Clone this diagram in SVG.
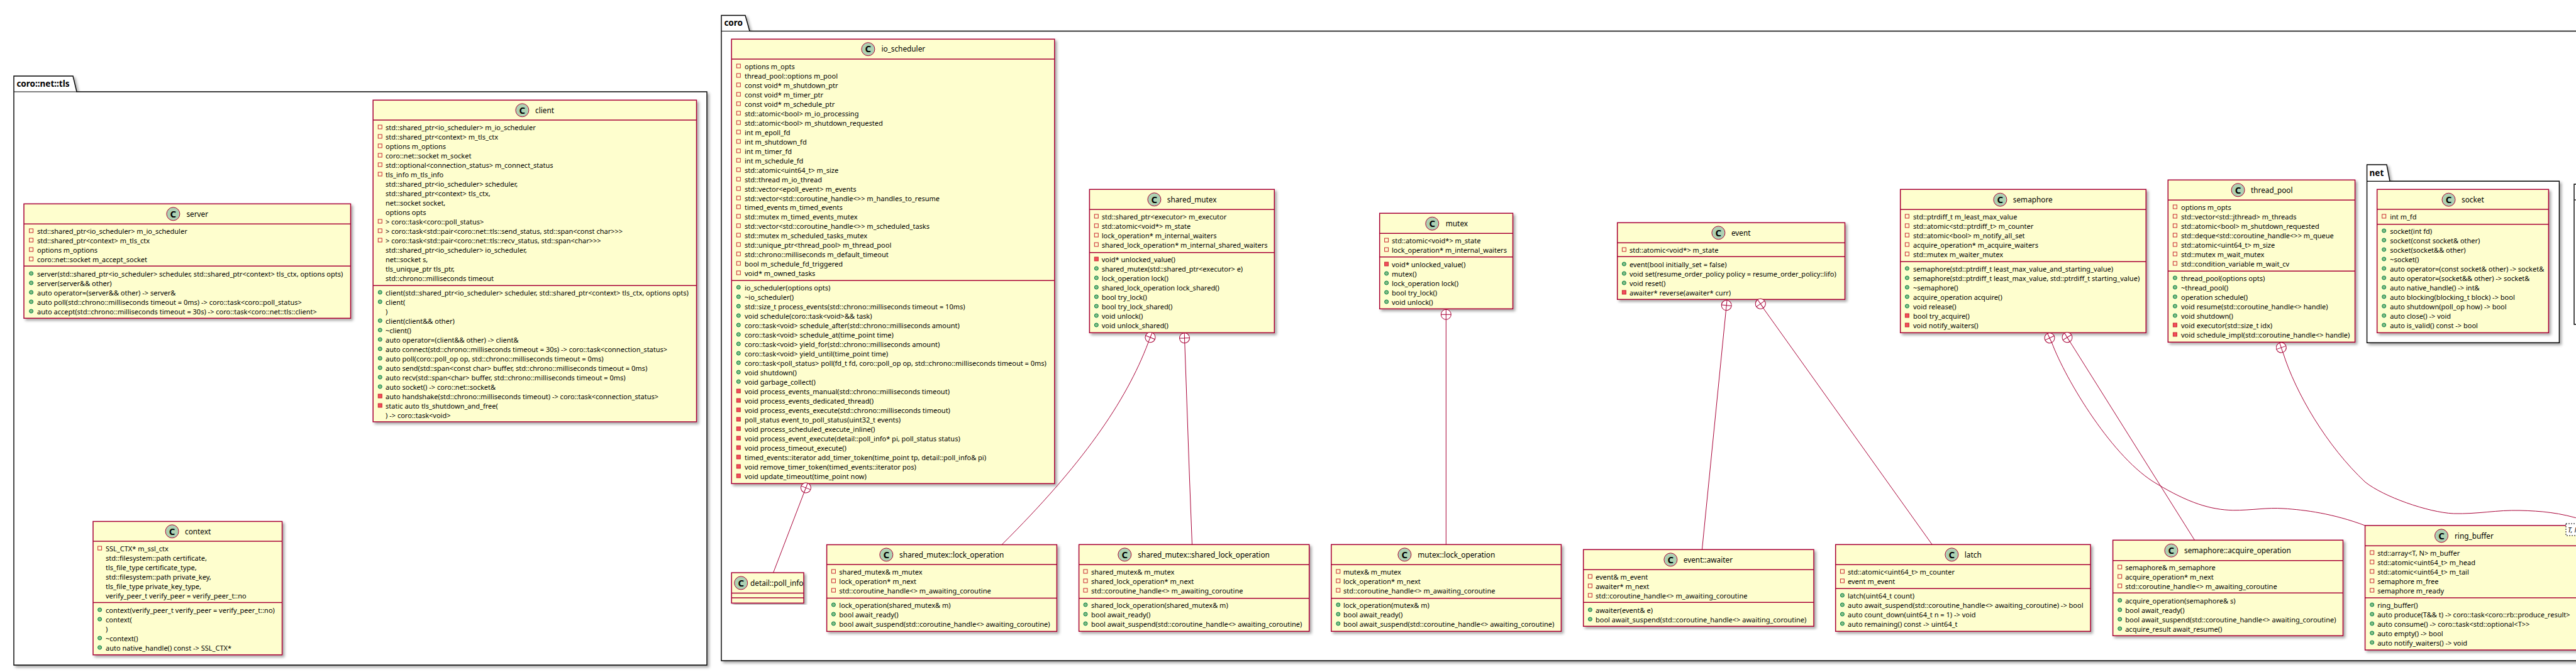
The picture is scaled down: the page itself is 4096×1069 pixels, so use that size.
<svg xmlns="http://www.w3.org/2000/svg" width="4096" height="1069" viewBox="0 0 4096 1069">
<style>
text{font-family:"Noto Sans","DejaVu Sans",sans-serif;fill:#000}
.m{font-size:11.03px}
.t{font-size:11.8px}
.p{font-size:13.5px;font-weight:bold}
.k{fill:#FEFECE;stroke:#A80036;stroke-width:1.5}
.d{stroke:#A80036;stroke-width:1.5;fill:none}
.s{fill:#ADD1B2;stroke:#A80036;stroke-width:1}
.c{font-size:15px;font-weight:bold;text-anchor:middle}
.g{fill:#fff;stroke:#000;stroke-width:1.4}
.l{stroke:#000;stroke-width:1.2;fill:none}
.e{fill:none;stroke:#A80036;stroke-width:1}
.n{fill:#fff;stroke:#A80036;stroke-width:1}
</style>
<defs>
<filter id="sh" x="-5%" y="-5%" width="110%" height="110%"><feDropShadow dx="3" dy="3" stdDeviation="2" flood-color="#000" flood-opacity="0.35"/></filter>
<rect id="a" x="-3" y="-3" width="6" height="6" fill="none" stroke="#C82930" stroke-width="1"/>
<rect id="b" x="-3" y="-3" width="6" height="6" fill="#F24D5C" stroke="#C82930" stroke-width="1"/>
<circle id="c" r="3" fill="#84BE84" stroke="#038048" stroke-width="1"/>
<g id="nest"><circle class="n" r="8"/><path class="e" d="M-8,0H8M0,-8V8"/></g>
</defs>
<g id="pkg-tls"><path class="g" filter="url(#sh)" d="M22,121H116L122,146H1124V1058H22Z"/><path class="l" d="M22,146H122"/><text class="p" x="26.4" y="137.5">coro::net::tls</text></g>
<g id="pkg-coro"><path class="g" filter="url(#sh)" d="M1147,24.5H1185L1192,49.5H4110V1051H1147Z"/><path class="l" d="M1147,49.5H1192"/><text class="p" x="1151.4" y="41">coro</text></g>
<g id="pkg-net"><path class="g" filter="url(#sh)" d="M3763.6,262H3795L3800,288.3H4069.4V545.3H3763.6Z"/><path class="l" d="M3763.6,288.3H3800"/><text class="p" x="3767.6" y="280">net</text></g>
<g id="pkg-cut"><path class="g" d="M4110,293H4093V516H4110Z"/><path class="l" d="M4093,318H4110"/></g>

<g id="server"><rect class="k" filter="url(#sh)" x="38" y="324.3" width="519.5" height="182"/><path class="d" d="M38,356.3H557.5M38,423.3H557.5"/><circle class="s" cx="275.4" cy="340.3" r="10.5"/><text class="c" x="275.4" y="345.5">C</text><text class="t" x="296.4" y="344.5">server</text>
<use href="#a" x="49.6" y="367"/><text class="m" x="59" y="372">std::shared_ptr&lt;io_scheduler&gt; m_io_scheduler</text>
<use href="#a" x="49.6" y="382"/><text class="m" x="59" y="387">std::shared_ptr&lt;context&gt; m_tls_ctx</text>
<use href="#a" x="49.6" y="397"/><text class="m" x="59" y="402">options m_options</text>
<use href="#a" x="49.6" y="412"/><text class="m" x="59" y="417">coro::net::socket m_accept_socket</text>
<use href="#c" x="49.6" y="435"/><text class="m" x="59" y="440">server(std::shared_ptr&lt;io_scheduler&gt; scheduler, std::shared_ptr&lt;context&gt; tls_ctx, options opts)</text>
<use href="#c" x="49.6" y="450"/><text class="m" x="59" y="455">server(server&amp;&amp; other)</text>
<use href="#c" x="49.6" y="465"/><text class="m" x="59" y="470">auto operator=(server&amp;&amp; other) -&gt; server&amp;</text>
<use href="#c" x="49.6" y="480"/><text class="m" x="59" y="485">auto poll(std::chrono::milliseconds timeout = 0ms) -&gt; coro::task&lt;coro::poll_status&gt;</text>
<use href="#c" x="49.6" y="495"/><text class="m" x="59" y="500">auto accept(std::chrono::milliseconds timeout = 30s) -&gt; coro::task&lt;coro::net::tls::client&gt;</text>
</g>

<g id="client"><rect class="k" filter="url(#sh)" x="593.2" y="159.3" width="514.3" height="511.7"/><path class="d" d="M593.2,191H1107.5M593.2,454.3H1107.5"/><circle class="s" cx="830.4" cy="175.3" r="10.5"/><text class="c" x="830.4" y="180.5">C</text><text class="t" x="851" y="179.5">client</text>
<use href="#a" x="604.3" y="202"/><text class="m" x="613" y="207">std::shared_ptr&lt;io_scheduler&gt; m_io_scheduler</text>
<use href="#a" x="604.3" y="217"/><text class="m" x="613" y="222">std::shared_ptr&lt;context&gt; m_tls_ctx</text>
<use href="#a" x="604.3" y="232"/><text class="m" x="613" y="237">options m_options</text>
<use href="#a" x="604.3" y="247"/><text class="m" x="613" y="252">coro::net::socket m_socket</text>
<use href="#a" x="604.3" y="262"/><text class="m" x="613" y="267">std::optional&lt;connection_status&gt; m_connect_status</text>
<use href="#a" x="604.3" y="277"/><text class="m" x="613" y="282">tls_info m_tls_info</text>
<text class="m" x="613" y="297">std::shared_ptr&lt;io_scheduler&gt; scheduler,</text>
<text class="m" x="613" y="312">std::shared_ptr&lt;context&gt; tls_ctx,</text>
<text class="m" x="613" y="327">net::socket socket,</text>
<text class="m" x="613" y="342">options opts</text>
<use href="#a" x="604.3" y="352"/><text class="m" x="613" y="357">&gt; coro::task&lt;coro::poll_status&gt;</text>
<use href="#a" x="604.3" y="367"/><text class="m" x="613" y="372">&gt; coro::task&lt;std::pair&lt;coro::net::tls::send_status, std::span&lt;const char&gt;&gt;&gt;</text>
<use href="#a" x="604.3" y="382"/><text class="m" x="613" y="387">&gt; coro::task&lt;std::pair&lt;coro::net::tls::recv_status, std::span&lt;char&gt;&gt;&gt;</text>
<text class="m" x="613" y="402">std::shared_ptr&lt;io_scheduler&gt; io_scheduler,</text>
<text class="m" x="613" y="417">net::socket s,</text>
<text class="m" x="613" y="432">tls_unique_ptr tls_ptr,</text>
<text class="m" x="613" y="447">std::chrono::milliseconds timeout</text>
<use href="#c" x="604.3" y="465"/><text class="m" x="613" y="470">client(std::shared_ptr&lt;io_scheduler&gt; scheduler, std::shared_ptr&lt;context&gt; tls_ctx, options opts)</text>
<use href="#c" x="604.3" y="480"/><text class="m" x="613" y="485">client(</text>
<text class="m" x="613" y="500">)</text>
<use href="#c" x="604.3" y="510"/><text class="m" x="613" y="515">client(client&amp;&amp; other)</text>
<use href="#c" x="604.3" y="525"/><text class="m" x="613" y="530">~client()</text>
<use href="#c" x="604.3" y="540"/><text class="m" x="613" y="545">auto operator=(client&amp;&amp; other) -&gt; client&amp;</text>
<use href="#c" x="604.3" y="555"/><text class="m" x="613" y="560">auto connect(std::chrono::milliseconds timeout = 30s) -&gt; coro::task&lt;connection_status&gt;</text>
<use href="#c" x="604.3" y="570"/><text class="m" x="613" y="575">auto poll(coro::poll_op op, std::chrono::milliseconds timeout = 0ms)</text>
<use href="#c" x="604.3" y="585"/><text class="m" x="613" y="590">auto send(std::span&lt;const char&gt; buffer, std::chrono::milliseconds timeout = 0ms)</text>
<use href="#c" x="604.3" y="600"/><text class="m" x="613" y="605">auto recv(std::span&lt;char&gt; buffer, std::chrono::milliseconds timeout = 0ms)</text>
<use href="#c" x="604.3" y="615"/><text class="m" x="613" y="620">auto socket() -&gt; coro::net::socket&amp;</text>
<use href="#b" x="604.3" y="630"/><text class="m" x="613" y="635">auto handshake(std::chrono::milliseconds timeout) -&gt; coro::task&lt;connection_status&gt;</text>
<use href="#b" x="604.3" y="645"/><text class="m" x="613" y="650">static auto tls_shutdown_and_free(</text>
<text class="m" x="613" y="665">) -&gt; coro::task&lt;void&gt;</text>
</g>

<g id="context"><rect class="k" filter="url(#sh)" x="148" y="829.5" width="300.6" height="212.2"/><path class="d" d="M148,861H448.6M148,958.4H448.6"/><circle class="s" cx="273.6" cy="845.3" r="10.5"/><text class="c" x="273.6" y="850.5">C</text><text class="t" x="294" y="849.5">context</text>
<use href="#a" x="158.6" y="872"/><text class="m" x="168" y="877">SSL_CTX* m_ssl_ctx</text>
<text class="m" x="168" y="892">std::filesystem::path certificate,</text>
<text class="m" x="168" y="907">tls_file_type certificate_type,</text>
<text class="m" x="168" y="922">std::filesystem::path private_key,</text>
<text class="m" x="168" y="937">tls_file_type private_key_type,</text>
<text class="m" x="168" y="952">verify_peer_t verify_peer = verify_peer_t::no</text>
<use href="#c" x="158.6" y="970"/><text class="m" x="168" y="975">context(verify_peer_t verify_peer = verify_peer_t::no)</text>
<use href="#c" x="158.6" y="985"/><text class="m" x="168" y="990">context(</text>
<text class="m" x="168" y="1005">)</text>
<use href="#c" x="158.6" y="1015"/><text class="m" x="168" y="1020">~context()</text>
<use href="#c" x="158.6" y="1030"/><text class="m" x="168" y="1035">auto native_handle() const -&gt; SSL_CTX*</text>
</g>

<g id="io_scheduler"><rect class="k" filter="url(#sh)" x="1163.2" y="62.3" width="513.6" height="707"/><path class="d" d="M1163.2,94H1676.8M1163.2,446.3H1676.8"/><circle class="s" cx="1380.4" cy="78.2" r="10.5"/><text class="c" x="1380.4" y="83.4">C</text><text class="t" x="1401.4" y="82.4">io_scheduler</text>
<use href="#a" x="1174.3" y="105"/><text class="m" x="1184" y="110">options m_opts</text>
<use href="#a" x="1174.3" y="120"/><text class="m" x="1184" y="125">thread_pool::options m_pool</text>
<use href="#a" x="1174.3" y="135"/><text class="m" x="1184" y="140">const void* m_shutdown_ptr</text>
<use href="#a" x="1174.3" y="150"/><text class="m" x="1184" y="155">const void* m_timer_ptr</text>
<use href="#a" x="1174.3" y="165"/><text class="m" x="1184" y="170">const void* m_schedule_ptr</text>
<use href="#a" x="1174.3" y="180"/><text class="m" x="1184" y="185">std::atomic&lt;bool&gt; m_io_processing</text>
<use href="#a" x="1174.3" y="195"/><text class="m" x="1184" y="200">std::atomic&lt;bool&gt; m_shutdown_requested</text>
<use href="#a" x="1174.3" y="210"/><text class="m" x="1184" y="215">int m_epoll_fd</text>
<use href="#a" x="1174.3" y="225"/><text class="m" x="1184" y="230">int m_shutdown_fd</text>
<use href="#a" x="1174.3" y="240"/><text class="m" x="1184" y="245">int m_timer_fd</text>
<use href="#a" x="1174.3" y="255"/><text class="m" x="1184" y="260">int m_schedule_fd</text>
<use href="#a" x="1174.3" y="270"/><text class="m" x="1184" y="275">std::atomic&lt;uint64_t&gt; m_size</text>
<use href="#a" x="1174.3" y="285"/><text class="m" x="1184" y="290">std::thread m_io_thread</text>
<use href="#a" x="1174.3" y="300"/><text class="m" x="1184" y="305">std::vector&lt;epoll_event&gt; m_events</text>
<use href="#a" x="1174.3" y="315"/><text class="m" x="1184" y="320">std::vector&lt;std::coroutine_handle&lt;&gt;&gt; m_handles_to_resume</text>
<use href="#a" x="1174.3" y="329"/><text class="m" x="1184" y="334">timed_events m_timed_events</text>
<use href="#a" x="1174.3" y="344"/><text class="m" x="1184" y="349">std::mutex m_timed_events_mutex</text>
<use href="#a" x="1174.3" y="359"/><text class="m" x="1184" y="364">std::vector&lt;std::coroutine_handle&lt;&gt;&gt; m_scheduled_tasks</text>
<use href="#a" x="1174.3" y="374"/><text class="m" x="1184" y="379">std::mutex m_scheduled_tasks_mutex</text>
<use href="#a" x="1174.3" y="389"/><text class="m" x="1184" y="394">std::unique_ptr&lt;thread_pool&gt; m_thread_pool</text>
<use href="#a" x="1174.3" y="404"/><text class="m" x="1184" y="409">std::chrono::milliseconds m_default_timeout</text>
<use href="#a" x="1174.3" y="419"/><text class="m" x="1184" y="424">bool m_schedule_fd_triggered</text>
<use href="#a" x="1174.3" y="434"/><text class="m" x="1184" y="439">void* m_owned_tasks</text>
<use href="#c" x="1174.3" y="457"/><text class="m" x="1184" y="462">io_scheduler(options opts)</text>
<use href="#c" x="1174.3" y="472"/><text class="m" x="1184" y="477">~io_scheduler()</text>
<use href="#c" x="1174.3" y="487"/><text class="m" x="1184" y="492">std::size_t process_events(std::chrono::milliseconds timeout = 10ms)</text>
<use href="#c" x="1174.3" y="502"/><text class="m" x="1184" y="507">void schedule(coro::task&lt;void&gt;&amp;&amp; task)</text>
<use href="#c" x="1174.3" y="517"/><text class="m" x="1184" y="522">coro::task&lt;void&gt; schedule_after(std::chrono::milliseconds amount)</text>
<use href="#c" x="1174.3" y="532"/><text class="m" x="1184" y="537">coro::task&lt;void&gt; schedule_at(time_point time)</text>
<use href="#c" x="1174.3" y="547"/><text class="m" x="1184" y="552">coro::task&lt;void&gt; yield_for(std::chrono::milliseconds amount)</text>
<use href="#c" x="1174.3" y="562"/><text class="m" x="1184" y="567">coro::task&lt;void&gt; yield_until(time_point time)</text>
<use href="#c" x="1174.3" y="577"/><text class="m" x="1184" y="582">coro::task&lt;poll_status&gt; poll(fd_t fd, coro::poll_op op, std::chrono::milliseconds timeout = 0ms)</text>
<use href="#c" x="1174.3" y="592"/><text class="m" x="1184" y="597">void shutdown()</text>
<use href="#c" x="1174.3" y="607"/><text class="m" x="1184" y="612">void garbage_collect()</text>
<use href="#b" x="1174.3" y="622"/><text class="m" x="1184" y="627">void process_events_manual(std::chrono::milliseconds timeout)</text>
<use href="#b" x="1174.3" y="637"/><text class="m" x="1184" y="642">void process_events_dedicated_thread()</text>
<use href="#b" x="1174.3" y="652"/><text class="m" x="1184" y="657">void process_events_execute(std::chrono::milliseconds timeout)</text>
<use href="#b" x="1174.3" y="667"/><text class="m" x="1184" y="672">poll_status event_to_poll_status(uint32_t events)</text>
<use href="#b" x="1174.3" y="682"/><text class="m" x="1184" y="687">void process_scheduled_execute_inline()</text>
<use href="#b" x="1174.3" y="697"/><text class="m" x="1184" y="702">void process_event_execute(detail::poll_info* pi, poll_status status)</text>
<use href="#b" x="1174.3" y="712"/><text class="m" x="1184" y="717">void process_timeout_execute()</text>
<use href="#b" x="1174.3" y="727"/><text class="m" x="1184" y="732">timed_events::iterator add_timer_token(time_point tp, detail::poll_info&amp; pi)</text>
<use href="#b" x="1174.3" y="742"/><text class="m" x="1184" y="747">void remove_timer_token(timed_events::iterator pos)</text>
<use href="#b" x="1174.3" y="757"/><text class="m" x="1184" y="762">void update_timeout(time_point now)</text>
</g>

<g id="detail_poll_info"><rect class="k" filter="url(#sh)" x="1163.2" y="911" width="114.8" height="48.4"/><path class="d" d="M1163.2,943.5H1278M1163.2,951H1278"/><circle class="s" cx="1178.2" cy="927.4" r="10.5"/><text class="c" x="1178.2" y="932.6">C</text><text class="t" x="1193" y="931.6">detail::poll_info</text></g>

<g id="shared_mutex_lock_operation"><rect class="k" filter="url(#sh)" x="1314.6" y="866.5" width="365.8" height="137.9"/><path class="d" d="M1314.6,898H1680.4M1314.6,951.4H1680.4"/><circle class="s" cx="1409.3" cy="882.4" r="10.5"/><text class="c" x="1409.3" y="887.6">C</text><text class="t" x="1430" y="886.6">shared_mutex::lock_operation</text>
<use href="#a" x="1325.4" y="909"/><text class="m" x="1334.3" y="914">shared_mutex&amp; m_mutex</text>
<use href="#a" x="1325.4" y="924"/><text class="m" x="1334.3" y="929">lock_operation* m_next</text>
<use href="#a" x="1325.4" y="939"/><text class="m" x="1334.3" y="944">std::coroutine_handle&lt;&gt; m_awaiting_coroutine</text>
<use href="#c" x="1325.4" y="962"/><text class="m" x="1334.3" y="967">lock_operation(shared_mutex&amp; m)</text>
<use href="#c" x="1325.4" y="977"/><text class="m" x="1334.3" y="982">bool await_ready()</text>
<use href="#c" x="1325.4" y="992"/><text class="m" x="1334.3" y="997">bool await_suspend(std::coroutine_handle&lt;&gt; awaiting_coroutine)</text>
</g>

<g id="shared_mutex"><rect class="k" filter="url(#sh)" x="1732.4" y="301.3" width="293.9" height="228"/><path class="d" d="M1732.4,333.3H2026.3M1732.4,401.7H2026.3"/><circle class="s" cx="1835.4" cy="317.3" r="10.5"/><text class="c" x="1835.4" y="322.5">C</text><text class="t" x="1855.8" y="321.5">shared_mutex</text>
<use href="#a" x="1743.3" y="344"/><text class="m" x="1751.7" y="349">std::shared_ptr&lt;executor&gt; m_executor</text>
<use href="#a" x="1743.3" y="359"/><text class="m" x="1751.7" y="364">std::atomic&lt;void*&gt; m_state</text>
<use href="#a" x="1743.3" y="374"/><text class="m" x="1751.7" y="379">lock_operation* m_internal_waiters</text>
<use href="#a" x="1743.3" y="389"/><text class="m" x="1751.7" y="394">shared_lock_operation* m_internal_shared_waiters</text>
<use href="#b" x="1743.3" y="412"/><text class="m" x="1751.7" y="417">void* unlocked_value()</text>
<use href="#c" x="1743.3" y="427"/><text class="m" x="1751.7" y="432">shared_mutex(std::shared_ptr&lt;executor&gt; e)</text>
<use href="#c" x="1743.3" y="442"/><text class="m" x="1751.7" y="447">lock_operation lock()</text>
<use href="#c" x="1743.3" y="457"/><text class="m" x="1751.7" y="462">shared_lock_operation lock_shared()</text>
<use href="#c" x="1743.3" y="472"/><text class="m" x="1751.7" y="477">bool try_lock()</text>
<use href="#c" x="1743.3" y="487"/><text class="m" x="1751.7" y="492">bool try_lock_shared()</text>
<use href="#c" x="1743.3" y="502"/><text class="m" x="1751.7" y="507">void unlock()</text>
<use href="#c" x="1743.3" y="517"/><text class="m" x="1751.7" y="522">void unlock_shared()</text>
</g>

<g id="shared_mutex_shared_lock_operation"><rect class="k" filter="url(#sh)" x="1715.6" y="866.3" width="366.1" height="138"/><path class="d" d="M1715.6,898.3H2081.7M1715.6,951.7H2081.7"/><circle class="s" cx="1788.3" cy="882.3" r="10.5"/><text class="c" x="1788.3" y="887.5">C</text><text class="t" x="1809.2" y="886.5">shared_mutex::shared_lock_operation</text>
<use href="#a" x="1726" y="909"/><text class="m" x="1735" y="914">shared_mutex&amp; m_mutex</text>
<use href="#a" x="1726" y="924"/><text class="m" x="1735" y="929">shared_lock_operation* m_next</text>
<use href="#a" x="1726" y="939"/><text class="m" x="1735" y="944">std::coroutine_handle&lt;&gt; m_awaiting_coroutine</text>
<use href="#c" x="1726" y="962"/><text class="m" x="1735" y="967">shared_lock_operation(shared_mutex&amp; m)</text>
<use href="#c" x="1726" y="977"/><text class="m" x="1735" y="982">bool await_ready()</text>
<use href="#c" x="1726" y="992"/><text class="m" x="1735" y="997">bool await_suspend(std::coroutine_handle&lt;&gt; awaiting_coroutine)</text>
</g>

<g id="mutex"><rect class="k" filter="url(#sh)" x="2193.7" y="339.3" width="211.8" height="152"/><path class="d" d="M2193.7,371.3H2405.5M2193.7,408.7H2405.5"/><circle class="s" cx="2277.3" cy="355.7" r="10.5"/><text class="c" x="2277.3" y="360.9">C</text><text class="t" x="2298.8" y="359.9">mutex</text>
<use href="#a" x="2204.6" y="382"/><text class="m" x="2213" y="387">std::atomic&lt;void*&gt; m_state</text>
<use href="#a" x="2204.6" y="397"/><text class="m" x="2213" y="402">lock_operation* m_internal_waiters</text>
<use href="#b" x="2204.6" y="420"/><text class="m" x="2213" y="425">void* unlocked_value()</text>
<use href="#c" x="2204.6" y="435"/><text class="m" x="2213" y="440">mutex()</text>
<use href="#c" x="2204.6" y="450"/><text class="m" x="2213" y="455">lock_operation lock()</text>
<use href="#c" x="2204.6" y="465"/><text class="m" x="2213" y="470">bool try_lock()</text>
<use href="#c" x="2204.6" y="480"/><text class="m" x="2213" y="485">void unlock()</text>
</g>

<g id="mutex_lock_operation"><rect class="k" filter="url(#sh)" x="2116.8" y="866.3" width="365.6" height="138"/><path class="d" d="M2116.8,898.3H2482.4M2116.8,951.7H2482.4"/><circle class="s" cx="2233.4" cy="882.3" r="10.5"/><text class="c" x="2233.4" y="887.5">C</text><text class="t" x="2254.3" y="886.5">mutex::lock_operation</text>
<use href="#a" x="2127.8" y="909"/><text class="m" x="2136" y="914">mutex&amp; m_mutex</text>
<use href="#a" x="2127.8" y="924"/><text class="m" x="2136" y="929">lock_operation* m_next</text>
<use href="#a" x="2127.8" y="939"/><text class="m" x="2136" y="944">std::coroutine_handle&lt;&gt; m_awaiting_coroutine</text>
<use href="#c" x="2127.8" y="962"/><text class="m" x="2136" y="967">lock_operation(mutex&amp; m)</text>
<use href="#c" x="2127.8" y="977"/><text class="m" x="2136" y="982">bool await_ready()</text>
<use href="#c" x="2127.8" y="992"/><text class="m" x="2136" y="997">bool await_suspend(std::coroutine_handle&lt;&gt; awaiting_coroutine)</text>
</g>

<g id="event"><rect class="k" filter="url(#sh)" x="2571.7" y="354.3" width="361.8" height="122"/><path class="d" d="M2571.7,386.3H2933.5M2571.7,408.3H2933.5"/><circle class="s" cx="2732.4" cy="370.3" r="10.5"/><text class="c" x="2732.4" y="375.5">C</text><text class="t" x="2752.9" y="374.5">event</text>
<use href="#a" x="2582.4" y="397"/><text class="m" x="2591" y="402">std::atomic&lt;void*&gt; m_state</text>
<use href="#c" x="2582.4" y="420"/><text class="m" x="2591" y="425">event(bool initially_set = false)</text>
<use href="#c" x="2582.4" y="435"/><text class="m" x="2591" y="440">void set(resume_order_policy policy = resume_order_policy::lifo)</text>
<use href="#c" x="2582.4" y="450"/><text class="m" x="2591" y="455">void reset()</text>
<use href="#b" x="2582.4" y="465"/><text class="m" x="2591" y="470">awaiter* reverse(awaiter* curr)</text>
</g>

<g id="event_awaiter"><rect class="k" filter="url(#sh)" x="2517.7" y="874.3" width="366.3" height="122"/><path class="d" d="M2517.7,906.3H2884M2517.7,958.3H2884"/><circle class="s" cx="2656.4" cy="890.3" r="10.5"/><text class="c" x="2656.4" y="895.5">C</text><text class="t" x="2676.8" y="894.5">event::awaiter</text>
<use href="#a" x="2528.4" y="917"/><text class="m" x="2537" y="922">event&amp; m_event</text>
<use href="#a" x="2528.4" y="932"/><text class="m" x="2537" y="937">awaiter* m_next</text>
<use href="#a" x="2528.4" y="947"/><text class="m" x="2537" y="952">std::coroutine_handle&lt;&gt; m_awaiting_coroutine</text>
<use href="#c" x="2528.4" y="970"/><text class="m" x="2537" y="975">awaiter(event&amp; e)</text>
<use href="#c" x="2528.4" y="985"/><text class="m" x="2537" y="990">bool await_suspend(std::coroutine_handle&lt;&gt; awaiting_coroutine)</text>
</g>

<g id="latch"><rect class="k" filter="url(#sh)" x="2918.7" y="866.3" width="405.3" height="138"/><path class="d" d="M2918.7,898.3H3324M2918.7,936.3H3324"/><circle class="s" cx="3103.4" cy="882.3" r="10.5"/><text class="c" x="3103.4" y="887.5">C</text><text class="t" x="3123.8" y="886.5">latch</text>
<use href="#a" x="2929.4" y="909"/><text class="m" x="2938" y="914">std::atomic&lt;uint64_t&gt; m_counter</text>
<use href="#a" x="2929.4" y="924"/><text class="m" x="2938" y="929">event m_event</text>
<use href="#c" x="2929.4" y="947"/><text class="m" x="2938" y="952">latch(uint64_t count)</text>
<use href="#c" x="2929.4" y="962"/><text class="m" x="2938" y="967">auto await_suspend(std::coroutine_handle&lt;&gt; awaiting_coroutine) -&gt; bool</text>
<use href="#c" x="2929.4" y="977"/><text class="m" x="2938" y="982">auto count_down(uint64_t n = 1) -&gt; void</text>
<use href="#c" x="2929.4" y="992"/><text class="m" x="2938" y="997">auto remaining() const -&gt; uint64_t</text>
</g>

<g id="semaphore"><rect class="k" filter="url(#sh)" x="3021.7" y="301.3" width="390.6" height="228"/><path class="d" d="M3021.7,333.3H3412.3M3021.7,416.3H3412.3"/><circle class="s" cx="3180.4" cy="317.7" r="10.5"/><text class="c" x="3180.4" y="322.9">C</text><text class="t" x="3200.8" y="321.9">semaphore</text>
<use href="#a" x="3032.4" y="344"/><text class="m" x="3042" y="349">std::ptrdiff_t m_least_max_value</text>
<use href="#a" x="3032.4" y="359"/><text class="m" x="3042" y="364">std::atomic&lt;std::ptrdiff_t&gt; m_counter</text>
<use href="#a" x="3032.4" y="374"/><text class="m" x="3042" y="379">std::atomic&lt;bool&gt; m_notify_all_set</text>
<use href="#a" x="3032.4" y="389"/><text class="m" x="3042" y="394">acquire_operation* m_acquire_waiters</text>
<use href="#a" x="3032.4" y="404"/><text class="m" x="3042" y="409">std::mutex m_waiter_mutex</text>
<use href="#c" x="3032.4" y="427"/><text class="m" x="3042" y="432">semaphore(std::ptrdiff_t least_max_value_and_starting_value)</text>
<use href="#c" x="3032.4" y="442"/><text class="m" x="3042" y="447">semaphore(std::ptrdiff_t least_max_value, std::ptrdiff_t starting_value)</text>
<use href="#c" x="3032.4" y="457"/><text class="m" x="3042" y="462">~semaphore()</text>
<use href="#c" x="3032.4" y="472"/><text class="m" x="3042" y="477">acquire_operation acquire()</text>
<use href="#c" x="3032.4" y="487"/><text class="m" x="3042" y="492">void release()</text>
<use href="#b" x="3032.4" y="502"/><text class="m" x="3042" y="507">bool try_acquire()</text>
<use href="#b" x="3032.4" y="517"/><text class="m" x="3042" y="522">void notify_waiters()</text>
</g>

<g id="semaphore_acquire_operation"><rect class="k" filter="url(#sh)" x="3359.6" y="859.3" width="365.9" height="152"/><path class="d" d="M3359.6,891.7H3725.5M3359.6,943.3H3725.5"/><circle class="s" cx="3452.4" cy="875.7" r="10.5"/><text class="c" x="3452.4" y="880.9">C</text><text class="t" x="3473" y="879.9">semaphore::acquire_operation</text>
<use href="#a" x="3370.7" y="902"/><text class="m" x="3379.2" y="907">semaphore&amp; m_semaphore</text>
<use href="#a" x="3370.7" y="917"/><text class="m" x="3379.2" y="922">acquire_operation* m_next</text>
<use href="#a" x="3370.7" y="932"/><text class="m" x="3379.2" y="937">std::coroutine_handle&lt;&gt; m_awaiting_coroutine</text>
<use href="#c" x="3370.7" y="955"/><text class="m" x="3379.2" y="960">acquire_operation(semaphore&amp; s)</text>
<use href="#c" x="3370.7" y="970"/><text class="m" x="3379.2" y="975">bool await_ready()</text>
<use href="#c" x="3370.7" y="985"/><text class="m" x="3379.2" y="990">bool await_suspend(std::coroutine_handle&lt;&gt; awaiting_coroutine)</text>
<use href="#c" x="3370.7" y="1000"/><text class="m" x="3379.2" y="1005">acquire_result await_resume()</text>
</g>

<g id="thread_pool"><rect class="k" filter="url(#sh)" x="3447.3" y="286.3" width="297.3" height="258"/><path class="d" d="M3447.3,318.3H3744.6M3447.3,431.3H3744.6"/><circle class="s" cx="3558.6" cy="302.3" r="10.5"/><text class="c" x="3558.6" y="307.5">C</text><text class="t" x="3579" y="306.5">thread_pool</text>
<use href="#a" x="3458.4" y="329"/><text class="m" x="3468" y="334">options m_opts</text>
<use href="#a" x="3458.4" y="344"/><text class="m" x="3468" y="349">std::vector&lt;std::jthread&gt; m_threads</text>
<use href="#a" x="3458.4" y="359"/><text class="m" x="3468" y="364">std::atomic&lt;bool&gt; m_shutdown_requested</text>
<use href="#a" x="3458.4" y="374"/><text class="m" x="3468" y="379">std::deque&lt;std::coroutine_handle&lt;&gt;&gt; m_queue</text>
<use href="#a" x="3458.4" y="389"/><text class="m" x="3468" y="394">std::atomic&lt;uint64_t&gt; m_size</text>
<use href="#a" x="3458.4" y="404"/><text class="m" x="3468" y="409">std::mutex m_wait_mutex</text>
<use href="#a" x="3458.4" y="419"/><text class="m" x="3468" y="424">std::condition_variable m_wait_cv</text>
<use href="#c" x="3458.4" y="442"/><text class="m" x="3468" y="447">thread_pool(options opts)</text>
<use href="#c" x="3458.4" y="457"/><text class="m" x="3468" y="462">~thread_pool()</text>
<use href="#c" x="3458.4" y="472"/><text class="m" x="3468" y="477">operation schedule()</text>
<use href="#c" x="3458.4" y="487"/><text class="m" x="3468" y="492">void resume(std::coroutine_handle&lt;&gt; handle)</text>
<use href="#c" x="3458.4" y="502"/><text class="m" x="3468" y="507">void shutdown()</text>
<use href="#b" x="3458.4" y="517"/><text class="m" x="3468" y="522">void executor(std::size_t idx)</text>
<use href="#b" x="3458.4" y="532"/><text class="m" x="3468" y="537">void schedule_impl(std::coroutine_handle&lt;&gt; handle)</text>
</g>

<g id="socket"><rect class="k" filter="url(#sh)" x="3779.7" y="301.3" width="272.7" height="228"/><path class="d" d="M3779.7,333H4052.4M3779.7,356.7H4052.4"/><circle class="s" cx="3893.5" cy="317.7" r="10.5"/><text class="c" x="3893.5" y="322.9">C</text><text class="t" x="3914" y="321.9">socket</text>
<use href="#a" x="3790.7" y="344"/><text class="m" x="3800.2" y="349">int m_fd</text>
<use href="#c" x="3790.7" y="367"/><text class="m" x="3800.2" y="372">socket(int fd)</text>
<use href="#c" x="3790.7" y="382"/><text class="m" x="3800.2" y="387">socket(const socket&amp; other)</text>
<use href="#c" x="3790.7" y="397"/><text class="m" x="3800.2" y="402">socket(socket&amp;&amp; other)</text>
<use href="#c" x="3790.7" y="412"/><text class="m" x="3800.2" y="417">~socket()</text>
<use href="#c" x="3790.7" y="427"/><text class="m" x="3800.2" y="432">auto operator=(const socket&amp; other) -&gt; socket&amp;</text>
<use href="#c" x="3790.7" y="442"/><text class="m" x="3800.2" y="447">auto operator=(socket&amp;&amp; other) -&gt; socket&amp;</text>
<use href="#c" x="3790.7" y="457"/><text class="m" x="3800.2" y="462">auto native_handle() -&gt; int&amp;</text>
<use href="#c" x="3790.7" y="472"/><text class="m" x="3800.2" y="477">auto blocking(blocking_t block) -&gt; bool</text>
<use href="#c" x="3790.7" y="487"/><text class="m" x="3800.2" y="492">auto shutdown(poll_op how) -&gt; bool</text>
<use href="#c" x="3790.7" y="502"/><text class="m" x="3800.2" y="507">auto close() -&gt; void</text>
<use href="#c" x="3790.7" y="517"/><text class="m" x="3800.2" y="522">auto is_valid() const -&gt; bool</text>
</g>

<g id="ring_buffer"><rect class="k" filter="url(#sh)" x="3760.6" y="836" width="345" height="198"/><path class="d" d="M3760.6,868.3H4105.6M3760.6,951H4105.6"/><circle class="s" cx="3882" cy="852.3" r="10.5"/><text class="c" x="3882" y="857.5">C</text><text class="t" x="3903" y="856.5">ring_buffer</text>
<rect x="4080" y="833" width="40" height="19" fill="#fff" stroke="#000" stroke-width="1" stroke-dasharray="2,2"/><text class="m" x="4083" y="847" font-style="italic">T, N</text>
<use href="#a" x="3771.7" y="879"/><text class="m" x="3780.2" y="884">std::array&lt;T, N&gt; m_buffer</text>
<use href="#a" x="3771.7" y="894"/><text class="m" x="3780.2" y="899">std::atomic&lt;uint64_t&gt; m_head</text>
<use href="#a" x="3771.7" y="909"/><text class="m" x="3780.2" y="914">std::atomic&lt;uint64_t&gt; m_tail</text>
<use href="#a" x="3771.7" y="924"/><text class="m" x="3780.2" y="929">semaphore m_free</text>
<use href="#a" x="3771.7" y="939"/><text class="m" x="3780.2" y="944">semaphore m_ready</text>
<use href="#c" x="3771.7" y="962"/><text class="m" x="3780.2" y="967">ring_buffer()</text>
<use href="#c" x="3771.7" y="977"/><text class="m" x="3780.2" y="982">auto produce(T&amp;&amp; t) -&gt; coro::task&lt;coro::rb::produce_result&gt;</text>
<use href="#c" x="3771.7" y="992"/><text class="m" x="3780.2" y="997">auto consume() -&gt; coro::task&lt;std::optional&lt;T&gt;&gt;</text>
<use href="#c" x="3771.7" y="1007"/><text class="m" x="3780.2" y="1012">auto empty() -&gt; bool</text>
<use href="#c" x="3771.7" y="1022"/><text class="m" x="3780.2" y="1027">auto notify_waiters() -&gt; void</text>
</g>

<g id="connectors">
<path class="e" d="M1278.5,783.5L1229.6,911"/><use href="#nest" transform="translate(1281.4 776) rotate(21)"/>
<path class="e" d="M1826,544.4C1790,640 1720,740 1593.2,866.2"/><use href="#nest" transform="translate(1829 536.7) rotate(22)"/>
<path class="e" d="M1883.8,545.7L1891.4,760L1895.5,866.3"/><use href="#nest" transform="translate(1883.5 537.7) rotate(-2)"/>
<path class="e" d="M2299.3,508.3V866.3"/><use href="#nest" transform="translate(2299.3 500.3)"/>
<path class="e" d="M2744.4,493.7L2706.4,874.3"/><use href="#nest" transform="translate(2745.2 485.7) rotate(5.7)"/>
<path class="e" d="M2803.6,490L3072.2,866.3"/><use href="#nest" transform="translate(2799.3 483.3) rotate(-35)"/>
<path class="e" d="M3262.5,545C3285,605 3360,730 3430,770C3480,800 3515,811 3550.6,811.7C3580,812 3605,807 3631,809C3665,811 3710,817 3760.6,836"/><use href="#nest" transform="translate(3259 537.7) rotate(-25)"/>
<path class="e" d="M3291.3,543.5L3489.4,859"/><use href="#nest" transform="translate(3287 536.7) rotate(-32)"/>
<path class="e" d="M3630,560.5C3650,625 3700,710 3761,767C3790,790 3860,815 3901.5,817C3940,818 3970,811 4007,812C4040,813 4070,815 4110,828"/><use href="#nest" transform="translate(3627.3 553) rotate(-19)"/>
</g>
</svg>
